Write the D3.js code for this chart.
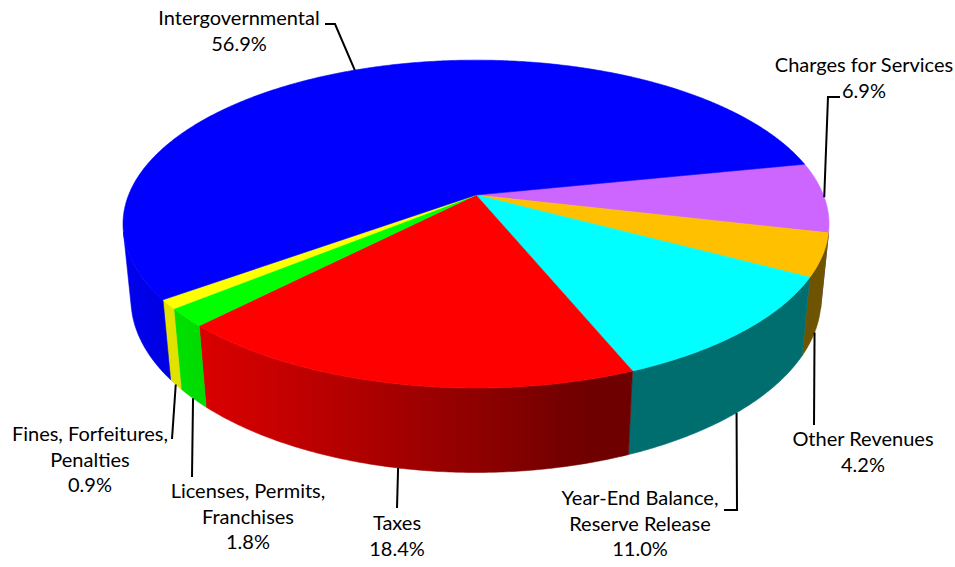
<!DOCTYPE html>
<html>
<head>
<meta charset="utf-8">
<script src="https://cdn.jsdelivr.net/npm/d3@7/dist/d3.min.js"></script>
<style>
  html, body { margin: 0; padding: 0; background: #fff; }
  svg { display: block; }
  text { font-family: Lato, "Open Sans", "DejaVu Sans", sans-serif; font-size: 20px; fill: #000; }
</style>
</head>
<body>
<svg id="chart" width="955" height="567"></svg>
<script>
// Revenue sources, listed clockwise from the right-hand side of the pie
const categories = [
  "Charges for Services",
  "Other Revenues",
  "Year-End Balance, Reserve Release",
  "Taxes",
  "Licenses, Permits, Franchises",
  "Fines, Forfeitures, Penalties",
  "Intergovernmental"
];
const shares = [6.9, 4.2, 11.0, 18.4, 1.8, 0.9, 56.9];
// Label text broken onto lines
const labelLines = [
  ["Charges for Services"],
  ["Other Revenues"],
  ["Year-End Balance,", "Reserve Release"],
  ["Taxes"],
  ["Licenses, Permits,", "Franchises"],
  ["Fines, Forfeitures,", "Penalties"],
  ["Intergovernmental"]
];
const topColors  = ["#cc66ff", "#ffc000", "#00ffff", "#ff0000", "#00ff00", "#ffff00", "#0000ff"];

// Label placement: text centre / first baseline and leader path beyond the rim anchor
const labelLayout = [
  { x: 864, y: 72,  leader: [[828, 97], [840, 97]] },
  { x: 863, y: 446, leader: [[814, 425]] },
  { x: 640, y: 505, leader: [[737, 510], [724, 510]] },
  { x: 397, y: 530, leader: [[397, 508]] },
  { x: 248, y: 498, leader: [[192, 477]] },
  { x: 90,  y: 441, leader: [[172, 439]] },
  { x: 239, y: 25,  leader: [[335, 24], [325, 24]] }
];

const svg = d3.select("#chart");
const defs = svg.append("defs");
const lineGap = 25.5;

// Perspective view of a tilted disc
const view = {
  cx: 476, cy: 195, k: 347.4,
  sinA: 0.457, D: 5.02, H: 0.245
};
view.cosA = Math.sqrt(1 - view.sinA * view.sinA);

// theta: angle on the disc (0 = right, increasing toward the viewer); v: height (0 top, -H bottom)
function project(theta, v) {
  const u = Math.cos(theta), w = Math.sin(theta);
  const yd = w * view.sinA - v * view.cosA;
  const depth = w * view.cosA + v * view.sinA;
  const s = view.D / (view.D - depth);
  return [view.cx + view.k * s * u, view.cy + view.k * s * yd];
}

const startAngle = -11.6 * Math.PI / 180;
const pie = d3.pie().sort(null).value(d => d.value)
  .startAngle(startAngle).endAngle(startAngle + 2 * Math.PI);

const data = categories.map((c, i) => ({ name: c, value: shares[i], color: topColors[i], lines: labelLines[i] }));
const arcs = pie(data);

// The rim faces the camera only between these angles
const thMin = Math.asin(1 / (view.D * view.cosA));
const thMax = Math.PI - thMin;

// Side brightness: lit from the left
function sideShade(theta) {
  const c = Math.cos(theta - 165 * Math.PI / 180);
  return 0.43 + 0.5 * Math.max(0, c);
}
function shadeColor(hex, f) {
  const c = d3.rgb(hex);
  return d3.rgb(c.r * f, c.g * f, c.b * f).formatHex();
}

const line = d3.line();
const gSide = svg.append("g");
const gTop = svg.append("g");

const step = 0.5 * Math.PI / 180;
function rimPoints(t0, t1, v) {
  const n = Math.max(2, Math.ceil((t1 - t0) / step));
  return d3.range(n + 1).map(j => project(t0 + (t1 - t0) * j / n, v));
}

arcs.forEach((a, i) => {
  // outer wall with a horizontal shading gradient
  const a0 = Math.max(a.startAngle, thMin), a1 = Math.min(a.endAngle, thMax);
  if (a1 > a0) {
    const topPts = rimPoints(a0, a1, 0);
    const botPts = rimPoints(a0, a1, -view.H).reverse();
    const xs = topPts.map(p => p[0]);
    const xStart = xs[0], xEnd = xs[xs.length - 1];
    const gid = "side" + i;
    const grad = defs.append("linearGradient").attr("id", gid)
      .attr("gradientUnits", "userSpaceOnUse")
      .attr("x1", xStart).attr("x2", xEnd).attr("y1", 0).attr("y2", 0);
    const ns = 12;
    d3.range(ns + 1).forEach(j => {
      const t = a0 + (a1 - a0) * j / ns;
      const x = project(t, 0)[0];
      const off = Math.abs(xEnd - xStart) < 1e-6 ? 0 : (x - xStart) / (xEnd - xStart);
      grad.append("stop").attr("offset", Math.min(1, Math.max(0, off)))
        .attr("stop-color", shadeColor(a.data.color, sideShade(t)));
    });
    gSide.append("path").attr("d", line(topPts.concat(botPts)) + "Z")
      .attr("fill", `url(#${gid})`).attr("stroke", `url(#${gid})`).attr("stroke-width", 0.6);
  }
  // top wedge
  const pts = [[view.cx, view.cy]].concat(rimPoints(a.startAngle, a.endAngle, 0));
  gTop.append("path").attr("d", line(pts) + "Z")
    .attr("fill", a.data.color).attr("stroke", a.data.color).attr("stroke-width", 0.6)
    .attr("stroke-linejoin", "round");
});

// Labels with leader lines
const fmt = d3.format(".1f");
const gLab = svg.append("g");
arcs.forEach((a, i) => {
  const lay = labelLayout[i];
  const mid = (a.startAngle + a.endAngle) / 2;
  const front = Math.sin(mid) > Math.sin(thMin);
  const anchor = project(mid, front ? -view.H : 0);
  gLab.append("path")
    .attr("d", line([anchor].concat(lay.leader)))
    .attr("fill", "none").attr("stroke", "#000").attr("stroke-width", 2);
  const rows = a.data.lines.concat([fmt(a.data.value) + "%"]);
  const t = gLab.append("text").attr("text-anchor", "middle");
  rows.forEach((r, j) => {
    t.append("tspan").attr("x", lay.x).attr("y", lay.y + j * lineGap).text(r);
  });
});
</script>
</body>
</html>
